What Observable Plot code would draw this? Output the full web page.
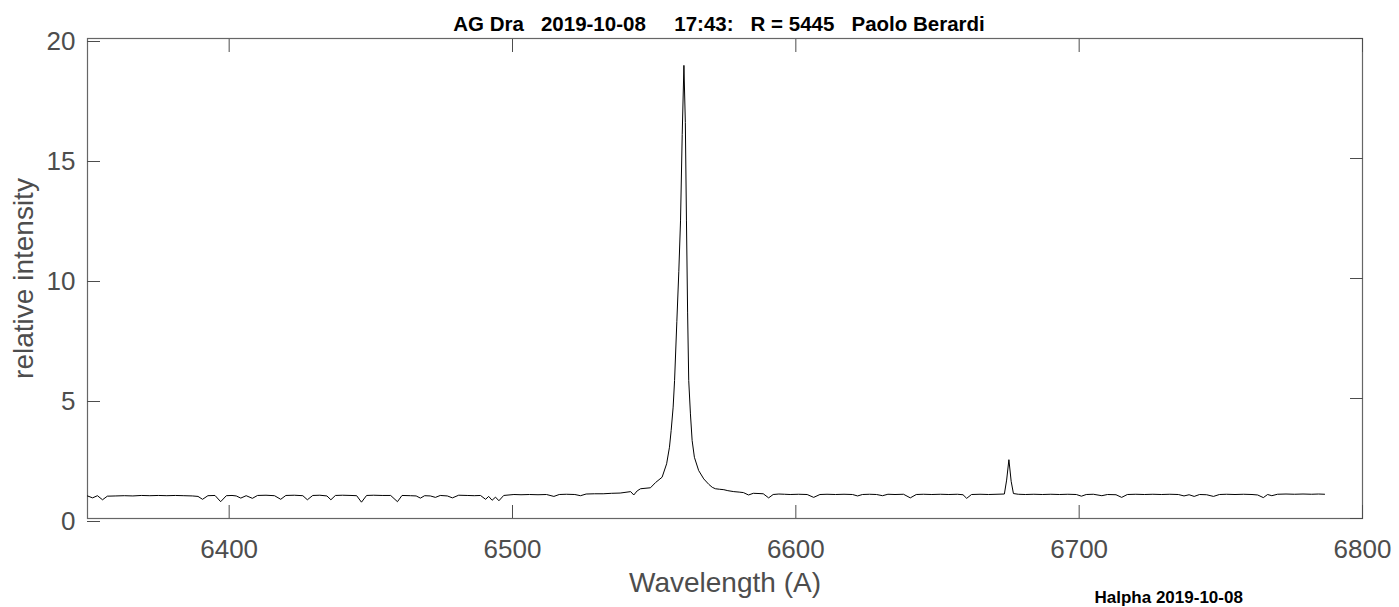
<!DOCTYPE html>
<html>
<head>
<meta charset="utf-8">
<script src="https://cdn.jsdelivr.net/npm/d3@7"></script>
<script src="https://cdn.jsdelivr.net/npm/@observablehq/plot@0.6"></script>
<style>
  html, body { margin: 0; padding: 0; background: white; overflow: hidden; }
  svg text { white-space: pre; }
</style>
</head>
<body>
<div id="chart"></div>
<script>
const titleText = "AG Dra   2019-10-08     17:43:   R = 5445   Paolo Berardi";
const footerText = "Halpha 2019-10-08";
const xLabel = "Wavelength (A)";
const yLabel = "relative intensity";
const xTicks = [6400, 6500, 6600, 6700, 6800];
const yTicks = [0, 5, 10, 15, 20];

const wavelength = [
  6350, 6351.8, 6353.5, 6355.3, 6357, 6360, 6363, 6366, 6369, 6372, 6375, 6378, 6381, 6384, 6387, 6389,
  6390.6, 6392.5, 6395, 6397, 6399, 6401, 6402.5, 6404.1, 6406, 6408.2, 6410, 6413, 6416, 6418.2, 6420,
  6423, 6426, 6427.6, 6429.5, 6432, 6434.5, 6435.9, 6437.5, 6440, 6443, 6445, 6446.7, 6448.5, 6451, 6454,
  6457, 6459.4, 6461, 6464, 6466, 6467.5, 6469, 6471, 6472.8, 6474.5, 6477, 6478.8, 6481, 6484, 6486.5,
  6488.7, 6490.5, 6491.6, 6492.8, 6494, 6495.2, 6496.9, 6500.5, 6503, 6506, 6509, 6512, 6514.6, 6516.5,
  6519, 6522, 6524, 6526, 6529, 6532, 6535, 6538, 6541.7, 6542.8, 6544, 6545.2, 6548.7, 6550.5, 6552.8,
  6554.4, 6555.4, 6556.0, 6556.7, 6557.2, 6558.0, 6558.7, 6559.3, 6559.9, 6560.5, 6561.0, 6561.4, 6561.8,
  6562.2, 6562.8, 6563.4, 6564.2, 6565.7, 6567.5, 6569.3, 6570.5, 6571.6, 6573, 6574.6, 6576, 6578.1,
  6580, 6581.5, 6583.3, 6585, 6587, 6588.5, 6590.4, 6592, 6594, 6596, 6598, 6601, 6604, 6606.3, 6608.5,
  6611, 6614, 6617, 6620, 6621.8, 6623.5, 6626, 6628.5, 6630.6, 6632.5, 6635, 6638, 6640.4, 6642.5, 6645,
  6648, 6651, 6654, 6657, 6659, 6660.3, 6662, 6665, 6668, 6671, 6673.6, 6674.4, 6675.2, 6676.0, 6676.8,
  6678.5, 6681, 6684, 6687, 6690, 6693, 6696, 6699, 6700.8, 6702.5, 6705, 6708, 6710, 6713, 6715, 6717,
  6720, 6723, 6726, 6729, 6732, 6735, 6737, 6738.8, 6740.6, 6742.5, 6745, 6747.4, 6749.5, 6752, 6755,
  6758, 6761, 6763, 6765, 6766.5, 6768, 6770, 6773, 6776, 6779, 6782, 6784.5, 6786.6
];
const intensity = [
  0.94, 0.86, 0.95, 0.78, 0.93, 0.94, 0.95, 0.94, 0.96, 0.95, 0.96, 0.95, 0.96, 0.95, 0.94, 0.92,
  0.80, 0.95, 0.96, 0.70, 0.95, 0.96, 0.94, 0.85, 0.95, 0.84, 0.96, 0.97, 0.95, 0.80, 0.96,
  0.97, 0.95, 0.78, 0.96, 0.97, 0.94, 0.78, 0.96, 0.97, 0.96, 0.95, 0.68, 0.96, 0.97, 0.96,
  0.96, 0.70, 0.96, 0.95, 0.94, 0.85, 0.95, 0.94, 0.88, 0.96, 0.94, 0.86, 0.97, 0.96, 0.95,
  0.96, 0.80, 0.92, 0.76, 0.89, 0.74, 0.96, 1.00, 0.99, 1.00, 0.99, 1.00, 0.92, 1.00,
  1.01, 1.00, 0.95, 1.02, 1.03, 1.03, 1.05, 1.06, 1.12, 0.98, 1.15, 1.24, 1.28, 1.50, 1.72,
  2.28, 2.97, 3.67, 4.64, 5.75, 8.2, 10.3, 12.4, 16.0, 18.88, 16.5, 12.4, 8.6,
  5.75, 4.36, 3.25, 2.55, 2.0, 1.65, 1.42, 1.30, 1.24, 1.22, 1.20, 1.16, 1.12,
  1.10, 1.08, 0.98, 1.05, 1.04, 1.03, 0.86, 1.00, 1.02, 1.01, 1.00, 1.01, 1.00, 0.88, 1.00,
  1.01, 1.00, 1.01, 1.00, 0.94, 1.00, 1.01, 1.00, 0.95, 1.01, 1.00, 1.01, 0.86, 1.00, 1.01,
  1.00, 1.01, 1.00, 1.01, 0.99, 0.84, 1.00, 1.01, 1.00, 1.01, 1.02, 1.6, 2.45, 1.55, 1.04,
  1.01, 1.00, 1.01, 1.00, 1.01, 1.00, 1.01, 1.00, 0.93, 1.00, 1.01, 0.95, 1.00, 0.99, 0.88, 1.00,
  1.01, 1.00, 1.01, 1.00, 1.01, 1.00, 0.94, 0.99, 0.92, 1.00, 0.99, 0.92, 1.00, 1.01, 1.00,
  1.01, 1.00, 0.98, 0.87, 1.00, 0.95, 1.01, 1.02, 1.01, 1.02, 1.01, 1.02, 1.01
];

const spectrum = wavelength.map((w, i) => ({w, v: intensity[i]}));
const axisColor = "#4d4d4d";

const chart = Plot.plot({
  width: 1399,
  height: 607,
  marginLeft: 87,
  marginRight: 37,
  marginTop: 38,
  marginBottom: 89,
  style: {fontFamily: "'Liberation Sans', Arial, Helvetica, sans-serif", background: "white"},
  x: {domain: [6350, 6800]},
  y: {domain: [0, 20]},
  marks: [
    Plot.frame({stroke: "#666", strokeWidth: 1.2}),
    Plot.axisX({anchor: "bottom", ticks: xTicks, tickSize: -13, tickPadding: 34, fontSize: 26, color: axisColor, label: null, tickFormat: d => String(d)}),
    Plot.axisX({anchor: "top", ticks: xTicks, tickSize: -13, color: axisColor, label: null, tickFormat: () => ""}),
    Plot.axisY({anchor: "left", ticks: yTicks, tickSize: -13, tickPadding: 25, dy: 3, fontSize: 26, color: axisColor, label: null, tickFormat: d => String(d)}),
    Plot.axisY({anchor: "right", ticks: yTicks, tickSize: -13, color: axisColor, label: null, tickFormat: () => ""}),
    Plot.line(spectrum, {x: "w", y: "v", stroke: "black", strokeWidth: 1}),
    Plot.text([titleText], {frameAnchor: "top", dx: -6, dy: -8, lineAnchor: "bottom", fontSize: 20.5, fontWeight: "bold", fill: "black"}),
    Plot.text([xLabel], {frameAnchor: "bottom", dy: 65, lineAnchor: "middle", fontSize: 28, fill: axisColor}),
    Plot.text([yLabel], {frameAnchor: "left", dx: -63, rotate: -90, textAnchor: "middle", lineAnchor: "middle", fontSize: 28, fill: axisColor}),
    Plot.text([footerText], {frameAnchor: "bottom-left", dx: 1007, dy: 84, textAnchor: "start", lineAnchor: "bottom", fontSize: 17, fontWeight: "bold", fill: "black"})
  ]
});
document.getElementById("chart").appendChild(chart);
</script>
</body>
</html>
